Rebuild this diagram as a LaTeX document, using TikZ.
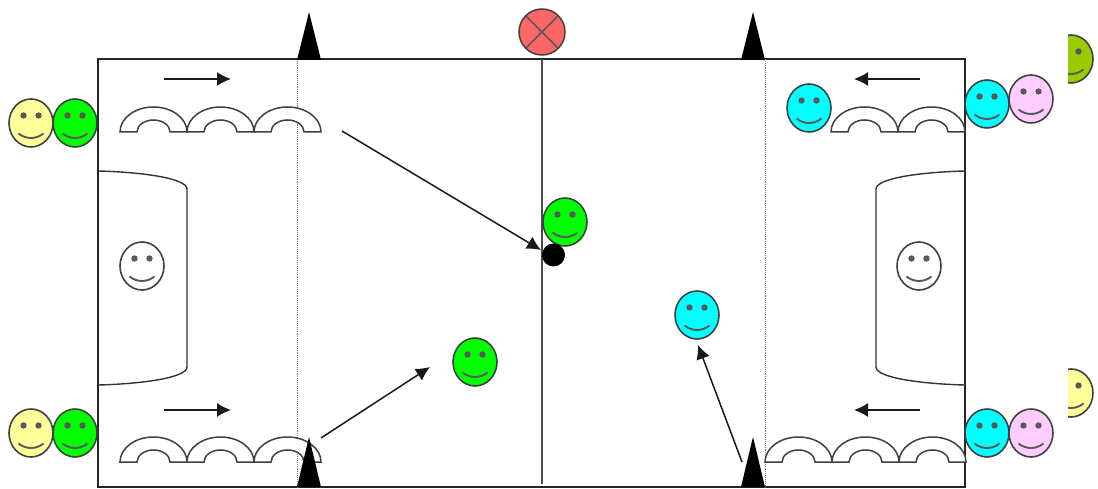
\documentclass[tikz,border=0pt]{standalone}
\usepackage{xcolor}
\usetikzlibrary{arrows.meta}
\usetikzlibrary{math}
\definecolor{fyellow}{RGB}{255,255,153}
\definecolor{fgreen}{RGB}{0,255,0}
\definecolor{fcyan}{RGB}{0,255,255}
\definecolor{fpink}{RGB}{255,204,255}
\definecolor{folive}{RGB}{153,204,0}
\definecolor{fred}{RGB}{255,102,102}
\tikzset{
  smiley/.pic={
    \draw[line width=1.6,color=black!75,fill=#1] (0,0) ellipse (22 and 24);
    \fill[black!65] (-7.5,-7.5) circle (3.2) (7.5,-7.5) circle (3.2);
    \draw[line width=1.9,color=black!65] (-12.5,10.5) .. controls (-5,16.5) and (5,16.5) .. (12.5,10.5);
  },
  arch/.pic={
    \draw[line width=1.5,color=black!75,fill=white] (0,0) arc (180:360:33.5 and 25) -- (50,0) arc (360:180:16.5 and 12) -- cycle;
  },
  cone/.style={fill=black},
  runarrow/.style={line width=1.5,color=black!90,-{Latex[length=14,width=14]}},
}
\begin{document}
\begin{tikzpicture}[x=1pt,y=-1pt]
\tikzmath{
\Fl=98;
\Fr=965;
\Ft=59;
\Fb=487;
\Mid=542;
}
\useasboundingbox (0,0) rectangle (1098,489);

%field:
 \draw[line width=1.8,color=black!85] (\Fl,\Ft) rectangle (\Fr,\Fb);
 \draw[line width=1.8,color=black!70] (\Mid,\Ft) -- (\Mid,484);
 \foreach \x in {297.5,765}{
  \draw[line width=0.9,densely dotted,color=black!50] (\x,\Ft) -- (\x,\Fb);
 }

%goal areas:
 \draw[line width=1.4,color=black!80] (\Fl,171) .. controls (140,172) and (187,178) .. (187,189) -- (187,367) .. controls (187,378) and (140,384) .. (\Fl,385);
 \draw[line width=1.4,color=black!80] (\Fr,171) .. controls (923,172) and (876,178) .. (876,189) -- (876,367) .. controls (876,378) and (923,384) .. (\Fr,385);

%benches:
 \foreach \x in {120,187,254}{
  \pic at (\x,132) {arch};
  \pic at (\x,462) {arch};
 }
 \foreach \x in {831,898}{
  \pic at (\x,132) {arch};
 }
 \foreach \x in {765,832,899}{
  \pic at (\x,462) {arch};
 }

%cones:
 \foreach \x in {309,753}{
  \fill[cone] (\x-12,60) -- (\x,12) -- (\x+12,60) -- cycle;
  \fill[cone] (\x-12,487) -- (\x,437) -- (\x+12,487) -- cycle;
 }

%target:
 \draw[line width=1.5,color=black!75,fill=fred] (\Mid,32) circle (23);
 \draw[line width=1.5,color=black!65] (\Mid-16,16) -- (\Mid+16,48) (\Mid-16,48) -- (\Mid+16,16);

%players:
 \foreach \x/\y/\c in {31/123/fyellow,75/123/fgreen,31/433/fyellow,75/433/fgreen,
   809/108/fcyan,987/104/fcyan,1031/99/fpink,987/433/fcyan,1031/433/fpink,
   142/266/white,919/266/white,565/222/fgreen,475/362/fgreen,697/315/fcyan}{
  \pic at (\x,\y) {smiley=\c};
 }
 \begin{scope}
  \clip (1068,0) rectangle (1098,489);
  \pic at (1071,59) {smiley=folive};
  \pic at (1071,393) {smiley=fyellow};
 \end{scope}

%ball:
 \fill[black] (553.5,255) circle (11.5);

%arrows:
 \coordinate (runa) at (164,79);
 \coordinate (runb) at (231,79);
 \coordinate (runc) at (164,410);
 \coordinate (rund) at (231,410);
 \coordinate (rune) at (920,79);
 \coordinate (runf) at (854,79);
 \coordinate (rung) at (920,410);
 \coordinate (runh) at (854,410);
 \coordinate (passa) at (342,131);
 \coordinate (passb) at (541,250);
 \coordinate (passc) at (321,438);
 \coordinate (passd) at (430,367);
 \coordinate (passe) at (742,462);
 \coordinate (passf) at (698,345);
 \foreach \a/\b in {runa/runb,runc/rund,rune/runf,rung/runh,passa/passb,passc/passd,passe/passf}{
  \draw[runarrow] (\a) -- (\b);
 }
\end{tikzpicture}
\end{document}
